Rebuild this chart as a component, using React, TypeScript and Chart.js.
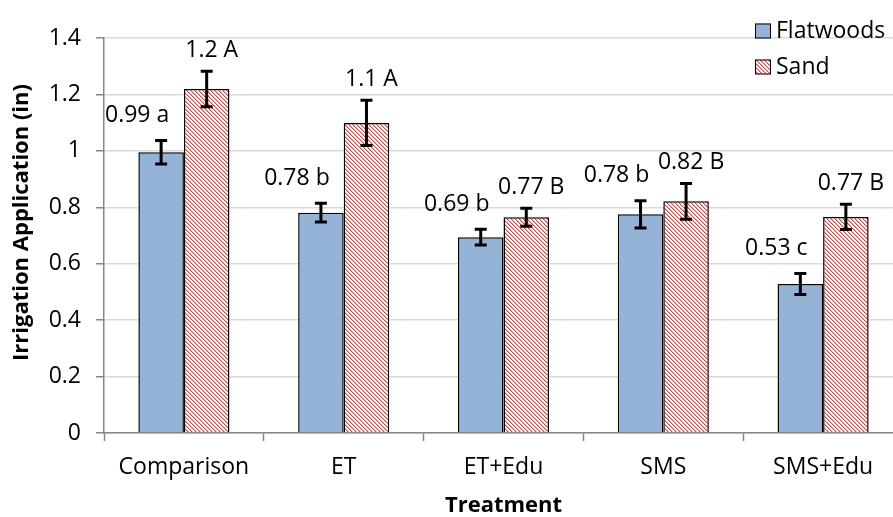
import React, { useEffect, useRef } from "react";
import { Chart, registerables } from "chart.js";

Chart.register(...registerables);

// ---- data ----
const categories = ["Comparison", "ET", "ET+Edu", "SMS", "SMS+Edu"];
const flatwoods = [0.995, 0.781, 0.694, 0.775, 0.528];
const flatwoodsErr = [0.042, 0.033, 0.028, 0.048, 0.037];
const flatwoodsLabels = ["0.99 a", "0.78 b", "0.69 b", "0.78 b", "0.53 c"];
const sand = [1.219, 1.099, 0.765, 0.821, 0.766];
const sandErr = [0.063, 0.08, 0.032, 0.063, 0.045];
const sandLabels = ["1.2 A", "1.1 A", "0.77 B", "0.82 B", "0.77 B"];
const yMin = 0;
const yMax = 1.4;
const yStep = 0.2;
const seriesNames = ["Flatwoods", "Sand"];
const xTitle = "Treatment";
const yTitle = "Irrigation Application (in)";

// ---- styles ----
const FONT = '"Open Sans", "Liberation Sans", sans-serif';
const BLUE = "#95B3D7";
const RED = "#C0504D";
const AXIS = "#868686";
const GRID = "#D9D9D9";

function makeHatch(): CanvasPattern | string {
  const s = 4;
  const c = document.createElement("canvas");
  c.width = s;
  c.height = s;
  const g = c.getContext("2d");
  if (!g) return RED;
  const img = g.createImageData(s, s);
  const red = [0xc0, 0x50, 0x4d];
  for (let y = 0; y < s; y++) {
    for (let x = 0; x < s; x++) {
      const d = (((x - y) % s) + s) % s;
      const i = (y * s + x) * 4;
      const t = d === 0 ? 1 : d === 1 ? 0.45 : 0;
      img.data[i] = Math.round(255 + (red[0] - 255) * t);
      img.data[i + 1] = Math.round(255 + (red[1] - 255) * t);
      img.data[i + 2] = Math.round(255 + (red[2] - 255) * t);
      img.data[i + 3] = 255;
    }
  }
  g.putImageData(img, 0, 0);
  return g.createPattern(c, "repeat") || RED;
}

export default function App() {
  const ref = useRef<HTMLCanvasElement | null>(null);

  useEffect(() => {
    const canvas = ref.current;
    if (!canvas) return;
    const hatch = makeHatch();
    const errs = [flatwoodsErr, sandErr];
    const labels = [flatwoodsLabels, sandLabels];
    const labelDx = [-24, 5];
    const labelDy = [25, 21];

    const overlay = {
      id: "overlay",
      afterDatasetsDraw(chart: any) {
        const ctx = chart.ctx;
        const ys = chart.scales.y;
        ctx.save();
        chart.data.datasets.forEach((ds: any, di: number) => {
          const meta = chart.getDatasetMeta(di);
          meta.data.forEach((el: any, j: number) => {
            const v = ds.data[j];
            const e = errs[di][j];
            const x = el.x;
            const yt = ys.getPixelForValue(v + e);
            const yb = ys.getPixelForValue(v - e);
            ctx.strokeStyle = "#000";
            ctx.lineWidth = 3;
            ctx.beginPath();
            ctx.moveTo(x, yt);
            ctx.lineTo(x, yb);
            ctx.moveTo(x - 6, yt);
            ctx.lineTo(x + 6, yt);
            ctx.moveTo(x - 6, yb);
            ctx.lineTo(x + 6, yb);
            ctx.stroke();
            ctx.fillStyle = "#000";
            ctx.font = `23px ${FONT}`;
            ctx.textAlign = "center";
            ctx.textBaseline = "middle";
            ctx.fillText(labels[di][j], x + labelDx[di], yt - labelDy[di]);
          });
        });
        ctx.restore();
      },
      afterDraw(chart: any) {
        const ctx = chart.ctx;
        const ca = chart.chartArea;
        ctx.save();
        // legend
        const lx = ca.right - 148;
        const rows = [ca.top - 7, ca.top + 29];
        const fills = [BLUE, hatch];
        rows.forEach((cy, i) => {
          ctx.fillStyle = fills[i] as any;
          ctx.fillRect(lx, cy - 7.5, 16, 15);
          ctx.strokeStyle = "#000";
          ctx.lineWidth = 1;
          ctx.strokeRect(lx + 0.5, cy - 7, 15, 14);
          ctx.fillStyle = "#000";
          ctx.font = `23px ${FONT}`;
          ctx.textAlign = "left";
          ctx.textBaseline = "middle";
          ctx.fillText(seriesNames[i], lx + 21, cy);
        });
        // axis titles
        ctx.font = `bold 22px ${FONT}`;
        ctx.textAlign = "center";
        ctx.textBaseline = "middle";
        ctx.fillText(xTitle, (ca.left + ca.right) / 2, 506);
        ctx.translate(22, (ca.top + ca.bottom) / 2 - 13);
        ctx.rotate(-Math.PI / 2);
        ctx.fillText(yTitle, 0, 0);
        ctx.restore();
      },
    };

    const chart = new Chart(canvas, {
      type: "bar",
      data: {
        labels: categories,
        datasets: [
          {
            label: seriesNames[0],
            data: flatwoods,
            backgroundColor: BLUE,
            borderColor: "#000",
            borderWidth: 1.5,
            categoryPercentage: 0.57,
            barPercentage: 1,
          },
          {
            label: seriesNames[1],
            data: sand,
            backgroundColor: hatch as any,
            borderColor: "#000",
            borderWidth: 1.5,
            categoryPercentage: 0.57,
            barPercentage: 1,
          },
        ],
      },
      options: {
        responsive: false,
        animation: false,
        layout: { padding: { top: 38, right: 17, left: 0, bottom: 0 } },
        plugins: {
          legend: { display: false },
          tooltip: { enabled: false },
        },
        scales: {
          x: {
            offset: true,
            grid: {
              display: true,
              drawOnChartArea: false,
              offset: true,
              tickLength: 8,
              tickColor: AXIS,
              tickWidth: 1.5,
            },
            border: { color: AXIS, width: 1.5 },
            ticks: {
              color: "#000",
              font: { family: FONT, size: 23 },
              padding: 13,
              maxRotation: 0,
            },
            afterFit(scale: any) {
              scale.height = 84;
            },
          },
          y: {
            min: yMin,
            max: yMax,
            ticks: {
              stepSize: yStep,
              color: "#000",
              font: { family: FONT, size: 23 },
              padding: 15,
              callback: (v: any) => String(Math.round(Number(v) * 10) / 10),
            },
            grid: {
              color: GRID,
              lineWidth: 1.5,
              tickLength: 8,
              tickColor: AXIS,
              tickWidth: 1.5,
            },
            border: { color: AXIS, width: 1.5 },
            afterFit(scale: any) {
              scale.width = 104;
            },
          },
        },
      },
      plugins: [overlay],
    });

    return () => chart.destroy();
  }, []);

  return (
    <div
      style={{
        position: "fixed",
        left: 0,
        top: 0,
        width: 893,
        height: 517,
        overflow: "hidden",
        background: "#fff",
      }}
    >
      <canvas ref={ref} width={920} height={517} style={{ display: "block" }} />
    </div>
  );
}
